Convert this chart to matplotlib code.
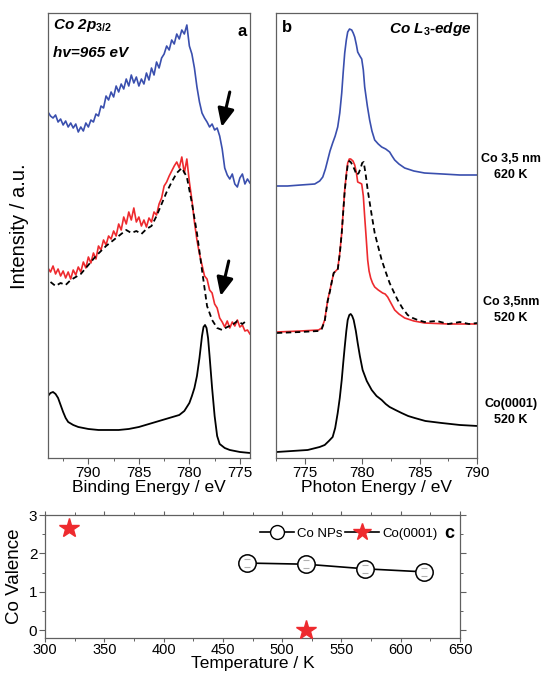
import numpy as np
import matplotlib
matplotlib.use('Agg')
import matplotlib.pyplot as plt
from matplotlib.lines import Line2D
from matplotlib.ticker import MultipleLocator

plt.rcParams['font.family'] = ['Liberation Sans', 'DejaVu Sans']
plt.rcParams['mathtext.fontset'] = 'custom'
plt.rcParams['mathtext.it'] = 'Liberation Sans:italic:bold'
plt.rcParams['mathtext.rm'] = 'Liberation Sans:bold'

# ---- panel a : Co 2p3/2 XPS (binding energy, eV) ----
be_grid = np.arange(794.0, 773.99, -0.25)
xps_620 = [346, 342, 340, 343, 336, 339, 333, 337, 331, 335,
           330, 334, 326, 331, 327, 335, 331, 338, 336, 344,
           342, 352, 350, 362, 358, 366, 361, 372, 366, 374,
           369, 379, 372, 383, 375, 381, 372, 379, 374, 385,
           378, 390, 383, 396, 390, 400, 404, 412, 408, 418,
           414, 424, 419, 428, 424, 433, 412, 404, 390, 371,
           356, 345, 340, 336, 331, 334, 328, 330, 322, 309,
           290, 283, 279, 284, 274, 271, 280, 284, 274, 279,
           275]
xps_520 = [190, 186, 192, 184, 189, 182, 187, 180, 186, 179,
           188, 183, 191, 186, 196, 190, 201, 195, 205, 199,
           212, 208, 218, 213, 222, 219, 227, 222, 234, 228,
           241, 234, 246, 238, 250, 236, 241, 232, 238, 231,
           240, 236, 246, 243, 254, 260, 272, 276, 282, 287,
           292, 296, 290, 301, 285, 299, 276, 258, 236, 218,
           204, 193, 182, 179, 168, 165, 154, 150, 140, 136,
           131, 137, 130, 136, 132, 138, 131, 133, 127, 128,
           124]
be_ref = np.arange(793.75, 774.0, -0.5)
xps_ref = [176, 172, 175, 173, 178, 181, 184, 190, 196, 202,
           207, 212, 216, 220, 224, 228, 225, 227, 224, 229,
           232, 242, 254, 266, 276, 285, 290, 281, 255, 225,
           188, 152, 138, 130, 128, 131, 133, 137, 134, 138]
be_single = [794.0, 793.75, 793.5, 793.25, 793.0, 792.75, 792.5, 792.25, 792.0, 791.5,
             791.0, 790.0, 789.0, 788.0, 787.0, 786.0, 785.0, 784.0, 783.0, 782.0,
             781.0, 780.5, 780.0, 779.75, 779.5, 779.25, 779.0, 778.75, 778.6, 778.45,
             778.3, 778.15, 778.0, 777.75, 777.5, 777.25, 777.0, 776.5, 776.0, 775.0,
             774.0]
xps_single = [62, 65, 66, 64, 60, 53, 46, 40, 36, 33,
              31, 29, 28, 28, 28, 29, 31, 34, 37, 40,
              43, 47, 55, 62, 70, 82, 100, 122, 131, 133,
              130, 120, 102, 70, 42, 22, 14, 10, 8, 6,
              5]
# arrows (tail, head) in (eV, intensity)
arrows_a = [((776.0, 366), (776.8, 331)), ((776.1, 197), (776.9, 162))]

# ---- panel b : Co L3-edge XAS (photon energy, eV) ----
pe_620 = [772.57, 773.5, 774.65, 775.87, 776.3, 776.57, 776.8, 777.0, 777.2, 777.43,
          777.65, 777.87, 778.05, 778.22, 778.35, 778.48, 778.62, 778.74, 778.9, 779.09,
          779.22, 779.35, 779.5, 779.61, 779.8, 779.96, 780.1, 780.22, 780.45, 780.65,
          780.85, 781.09, 781.4, 781.7, 782.05, 782.39, 782.6, 782.83, 783.2, 783.7,
          784.5, 785.43, 787.0, 788.5, 790.04]
xas_620 = [272, 272, 273, 274, 277, 281, 289, 298, 307, 315,
           322, 331, 345, 365, 386, 405, 418, 426, 429, 428,
           425, 421, 413, 406, 402, 399, 388, 371, 352, 338,
           327, 318, 314, 311, 309, 306, 302, 298, 294, 290,
           287, 285, 284, 283, 283]
pe_520 = [772.57, 774.65, 776.2, 776.48, 776.74, 777.0, 777.2, 777.35, 777.52, 777.7,
          777.87, 778.05, 778.22, 778.35, 778.48, 778.62, 778.74, 778.88, 779.0, 779.2,
          779.35, 779.5, 779.61, 779.8, 779.96, 780.1, 780.22, 780.35, 780.48, 780.6,
          780.74, 780.9, 781.09, 781.4, 781.78, 782.0, 782.22, 782.5, 782.83, 783.2,
          783.7, 784.5, 785.43, 787.5, 790.04]
xas_520 = [126, 127, 128, 130, 138, 158, 168, 176, 185, 187,
           189, 205, 225, 247, 268, 284, 295, 299, 299, 297,
           293, 285, 276, 275, 274, 262, 241, 220, 198, 187,
           180, 175, 171, 168, 165, 164, 161, 155, 148, 144,
           140, 137, 135, 134, 134]
pe_ref = [772.57, 774.65, 776.2, 776.48, 776.74, 777.0, 777.2, 777.35, 777.52, 777.7,
          777.87, 778.05, 778.22, 778.35, 778.48, 778.62, 778.74, 778.88, 779.0, 779.2,
          779.35, 779.52, 779.7, 779.87, 780.0, 780.13, 780.3, 780.48, 780.8, 781.09,
          781.4, 781.7, 782.05, 782.39, 782.75, 783.09, 783.5, 783.96, 784.4, 784.83,
          785.43, 786.5, 787.5, 788.5, 789.3, 790.04]
xas_ref = [125, 126, 127, 129, 137, 157, 167, 176, 185, 187,
           188, 204, 225, 246, 267, 282, 293, 297, 296, 292,
           288, 283, 285, 290, 295, 296, 284, 268, 245, 225,
           211, 198, 186, 175, 166, 158, 150, 143, 140, 138,
           136, 137, 134, 136, 134, 135]
pe_single = [772.57, 775.26, 776.3, 776.74, 777.1, 777.43, 777.65, 777.87, 778.05, 778.22,
             778.35, 778.48, 778.62, 778.74, 778.88, 779.0, 779.13, 779.26, 779.45, 779.61,
             779.8, 780.04, 780.4, 780.83, 781.25, 781.7, 782.05, 782.39, 782.9, 783.43,
             784.0, 784.57, 785.5, 786.91, 788.5, 790.04]
xas_single = [6, 8, 11, 13, 17, 21, 30, 45, 60, 78,
              95, 111, 127, 138, 143, 144, 142, 138, 127, 115,
              102, 88, 77, 68, 62, 58, 54, 51, 48, 45,
              42, 40, 37, 35, 33, 32]

# ---- panel c : Co valence vs temperature ----
temp_np = [470, 520, 570, 620]
val_np = [1.75, 1.72, 1.60, 1.52]
err_np = [0.11, 0.11, 0.11, 0.11]
temp_single = [320, 520]
val_single = [2.65, 0.0]

blue = '#3a4fae'
red = '#ee2a2e'
spine_c = '#606060'

fig = plt.figure(figsize=(5.44, 6.74), dpi=100)
axa = fig.add_axes([0.0882, 0.3205, 0.3713, 0.6602])
axb = fig.add_axes([0.5074, 0.3205, 0.3695, 0.6602])
axc = fig.add_axes([0.0827, 0.0534, 0.763, 0.1825])

for ax in (axa, axb, axc):
    for s in ax.spines.values():
        s.set_color(spine_c)
        s.set_linewidth(0.9)
    ax.tick_params(which='major', direction='out', length=4, width=0.8,
                   color=spine_c, labelsize=11, pad=1.5)
    ax.tick_params(which='minor', direction='out', length=2.5, width=0.7, color=spine_c)

# panel a
axa.plot(be_grid, xps_620, color=blue, lw=1.2)
axa.plot(be_grid, xps_520, color=red, lw=1.2)
axa.plot(be_ref, xps_ref, color='black', lw=1.3, ls=(0, (3, 2)))
axa.plot(be_single, xps_single, color='black', lw=1.3)
for tail, head in arrows_a:
    axa.annotate('', xy=head, xytext=tail,
                 arrowprops=dict(arrowstyle='-|>,head_width=0.5,head_length=1.1',
                                 color='black', lw=2.2, shrinkA=0, shrinkB=0))
axa.set_xlim(794, 774)
axa.set_ylim(0, 445)
axa.set_yticks([])
axa.xaxis.set_major_locator(MultipleLocator(5))
axa.xaxis.set_minor_locator(MultipleLocator(2.5))
axa.set_xlabel('Binding Energy / eV', fontsize=12.5, labelpad=0)
axa.text(0.025, 0.99, 'Co 2p$_{\\mathit{3/2}}$', transform=axa.transAxes, ha='left', va='top',
         fontsize=11, fontweight='bold', fontstyle='italic')
axa.text(0.025, 0.925, 'hv=965 eV', transform=axa.transAxes, ha='left', va='top',
         fontsize=11, fontweight='bold', fontstyle='italic')
axa.text(0.985, 0.975, 'a', transform=axa.transAxes, ha='right', va='top',
         fontsize=12, fontweight='bold')

# panel b
axb.plot(pe_620, xas_620, color=blue, lw=1.2)
axb.plot(pe_520, xas_520, color=red, lw=1.2)
axb.plot(pe_ref, xas_ref, color='black', lw=1.3, ls=(0, (3, 2)))
axb.plot(pe_single, xas_single, color='black', lw=1.3)
axb.set_xlim(772.5, 790)
axb.set_ylim(0, 445)
axb.set_yticks([])
axb.xaxis.set_major_locator(MultipleLocator(5))
axb.xaxis.set_minor_locator(MultipleLocator(2.5))
axb.set_xlabel('Photon Energy / eV', fontsize=12.5, labelpad=0)
axb.text(0.03, 0.985, 'b', transform=axb.transAxes, ha='left', va='top',
         fontsize=12, fontweight='bold')
axb.text(0.975, 0.985, 'Co L$_{\\mathit{3}}$-edge', transform=axb.transAxes, ha='right', va='top',
         fontsize=11, fontweight='bold', fontstyle='italic')

fig.text(0.035, 0.665, 'Intensity / a.u.', rotation=90, ha='center', va='center', fontsize=14.5)
for label, ypix in [('Co 3,5 nm\n620 K', 167), ('Co 3,5nm\n520 K', 310), ('Co(0001)\n520 K', 412)]:
    fig.text(511 / 544, 1 - ypix / 674, label, ha='center', va='center',
             fontsize=9, fontweight='bold', linespacing=1.45)

# panel c
axc.plot(temp_np, val_np, color='black', lw=1.2, marker='o', ms=12.5,
         mfc='white', mec='black', mew=1.1, zorder=3)
axc.errorbar(temp_np, val_np, yerr=err_np, fmt='none', ecolor='#b0b0b0',
             elinewidth=0, capsize=2, capthick=0.8, zorder=4)
axc.plot(temp_single, val_single, ls='none', marker='*', ms=15, color=red, zorder=3)
axc.set_xlim(300, 650)
axc.set_ylim(-0.2, 3.0)
axc.xaxis.set_major_locator(MultipleLocator(50))
axc.xaxis.set_minor_locator(MultipleLocator(25))
axc.yaxis.set_major_locator(MultipleLocator(1))
axc.yaxis.set_minor_locator(MultipleLocator(0.5))
axc.tick_params(which='both', top=True, right=True)
axc.tick_params(axis='x', which='major', length=3, pad=0.5, labelsize=10.5)
axc.tick_params(axis='x', which='minor', length=2)
axc.set_xlabel('Temperature / K', fontsize=12.5, labelpad=-0.5)
axc.set_ylabel('Co Valence', fontsize=13.5, labelpad=4)
handles = [Line2D([], [], color='black', lw=1.2, marker='o', ms=10, mfc='white', mec='black'),
           Line2D([], [], color='black', lw=1.2, marker='*', ms=13, mfc=red, mec=red)]
axc.legend(handles, ['Co NPs', 'Co(0001)'], loc='center right', bbox_to_anchor=(0.945, 0.85),
           ncol=2, frameon=False, fontsize=9.5, handlelength=2.6, handletextpad=0.2,
           columnspacing=0.2, borderpad=0, borderaxespad=0)
axc.text(0.975, 0.85, 'c', transform=axc.transAxes, ha='center', va='center',
         fontsize=13, fontweight='bold')

fig.savefig('out.png', dpi=100)
